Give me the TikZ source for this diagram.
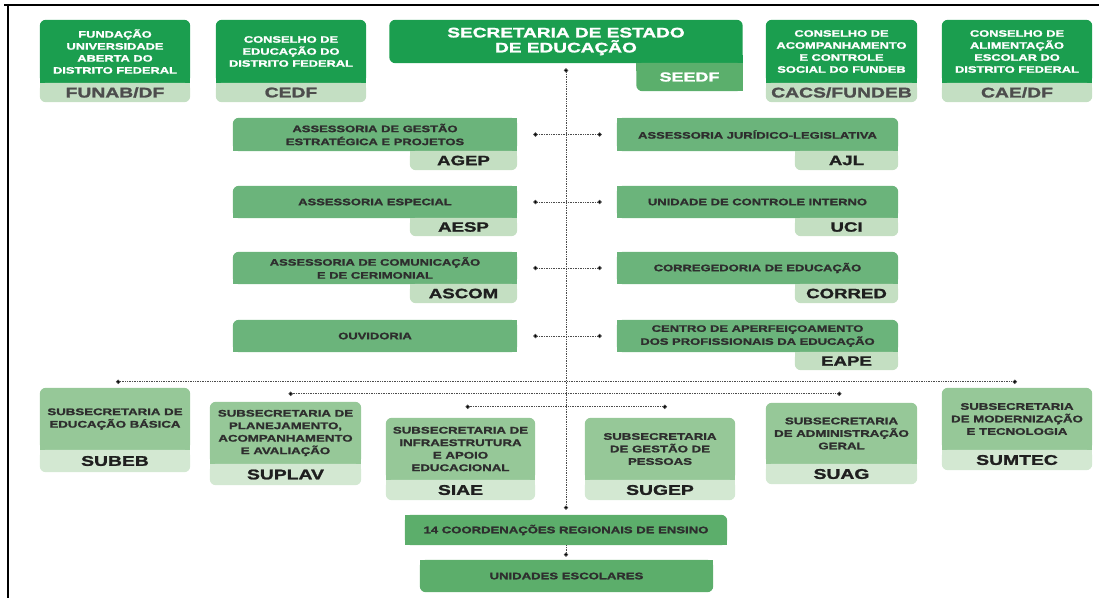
\documentclass[tikz,border=0pt]{standalone}
\usepackage{fontspec}
\setmainfont[FakeStretch=1.38, BoldFeatures={FakeBold=1.6}]{Liberation Sans}
\usetikzlibrary{backgrounds,arrows.meta}
\definecolor{cTop}{HTML}{1B9E4F}
\definecolor{cTopTab}{HTML}{C4DFC3}
\definecolor{cSeedTab}{HTML}{5BAF6C}
\definecolor{cAss}{HTML}{6BB47B}
\definecolor{cAssTab}{HTML}{C4DFC2}
\definecolor{cSub}{HTML}{96C898}
\definecolor{cSubTab}{HTML}{D3E8D2}
\definecolor{cCoord}{HTML}{5CAE6B}
\definecolor{tabGray}{HTML}{4D4D4D}
\definecolor{boxText}{HTML}{2E2E2E}
\newcommand\RTop[2]{%
 \fill[#2,rounded corners=6pt] (#1.south west) rectangle (#1.north east);
 \fill[#2] (#1.south west) rectangle ([yshift=8pt]#1.south east);}
\newcommand\RBot[2]{%
 \fill[#2,rounded corners=6pt] (#1.south west) rectangle (#1.north east);
 \fill[#2] (#1.north west) rectangle ([yshift=-8pt]#1.north east);}
\newcommand\SqNE[2]{\fill[#2] (#1.north east) rectangle ([xshift=-8pt,yshift=-8pt]#1.north east);}
\newcommand\SqNW[2]{\fill[#2] (#1.north west) rectangle ([xshift=8pt,yshift=-8pt]#1.north west);}
\tikzset{
 box/.style={inner sep=0pt, align=center},
 ttop/.style={box, text=white, font=\fontsize{9.3}{12}\selectfont\bfseries},
 ttitle/.style={box, text=white, font=\fontsize{13.8}{15}\selectfont\bfseries},
 ttab/.style={box, text=tabGray, font=\fontsize{14}{16}\selectfont\bfseries},
 tseed/.style={box, text=white, font=\fontsize{13}{15}\selectfont\bfseries},
 tass/.style={box, text=boxText, font=\fontsize{9.4}{13}\selectfont\bfseries},
 tasstab/.style={box, text=black!88, font=\fontsize{13.5}{15}\selectfont\bfseries},
 tsub/.style={box, text=boxText, font=\fontsize{9.6}{12.5}\selectfont\bfseries},
 tsubtab/.style={box, text=black!88, font=\fontsize{14}{16}\selectfont\bfseries},
 tcoord/.style={box, text=boxText, font=\fontsize{9.5}{12}\selectfont\bfseries},
 conn/.style={densely dotted, line width=0.7pt, draw=black!70},
 dots/.style={{Circle[length=4.4pt,fill=black]}-{Circle[length=4.4pt,fill=black]}},
 enddot/.style={-{Circle[length=4.4pt,fill=black]}},
}
\begin{document}
\begin{tikzpicture}[x=1pt,y=-1pt]
\useasboundingbox (0,0) rectangle (1099,598);
\draw[line width=1.5pt] (4,5) -- (1099,5);
\draw[line width=2.5pt] (8,4.3) -- (8,598);

% ---------- top row ----------
\node[ttop, minimum width=150, minimum height=63] (funab) at (115,51.5) {FUNDAÇÃO\\UNIVERSIDADE\\ABERTA DO\\DISTRITO FEDERAL};
\node[ttab, minimum width=150, minimum height=19] (funabT) at (115,92.5) {FUNAB/DF};
\node[ttop, minimum width=150, minimum height=63] (cedf) at (291,51.5) {CONSELHO DE\\EDUCAÇÃO DO\\DISTRITO FEDERAL};
\node[ttab, minimum width=150, minimum height=19] (cedfT) at (291,92.5) {CEDF};
\node[ttitle, minimum width=353, minimum height=43] (seedf) at (566,41.5) {SECRETARIA DE ESTADO\\DE EDUCAÇÃO};
\node[tseed, minimum width=106, minimum height=28] (seedfT) at (689.5,77) {SEEDF};
\node[ttop, minimum width=151, minimum height=63] (cacs) at (841.5,51.5) {CONSELHO DE\\ACOMPANHAMENTO\\E CONTROLE\\SOCIAL DO FUNDEB};
\node[ttab, minimum width=151, minimum height=19] (cacsT) at (841.5,92.5) {CACS/FUNDEB};
\node[ttop, minimum width=150, minimum height=63] (cae) at (1017,51.5) {CONSELHO DE\\ALIMENTAÇÃO\\ESCOLAR DO\\DISTRITO FEDERAL};
\node[ttab, minimum width=150, minimum height=19] (caeT) at (1017,92.5) {CAE/DF};

% ---------- assessorias ----------
\node[tass, minimum width=284, minimum height=33] (agep) at (375,134.5) {ASSESSORIA DE GESTÃO\\ESTRATÉGICA E PROJETOS};
\node[tasstab, minimum width=107, minimum height=19] (agepT) at (463.5,160.5) {AGEP};
\node[tass, minimum width=281, minimum height=33] (ajl) at (757.5,134.5) {ASSESSORIA JURÍDICO-LEGISLATIVA};
\node[tasstab, minimum width=103, minimum height=19] (ajlT) at (846.5,160.5) {AJL};

\node[tass, minimum width=284, minimum height=32] (aesp) at (375,202) {ASSESSORIA ESPECIAL};
\node[tasstab, minimum width=107, minimum height=18] (aespT) at (463.5,227) {AESP};
\node[tass, minimum width=281, minimum height=32] (uci) at (757.5,202) {UNIDADE DE CONTROLE INTERNO};
\node[tasstab, minimum width=103, minimum height=18] (uciT) at (846.5,227) {UCI};

\node[tass, minimum width=284, minimum height=32] (ascom) at (375,268) {ASSESSORIA DE COMUNICAÇÃO\\E DE CERIMONIAL};
\node[tasstab, minimum width=107, minimum height=19] (ascomT) at (463.5,293.5) {ASCOM};
\node[tass, minimum width=281, minimum height=32] (corred) at (757.5,268) {CORREGEDORIA DE EDUCAÇÃO};
\node[tasstab, minimum width=103, minimum height=19] (corredT) at (846.5,293.5) {CORRED};

\node[tass, minimum width=284, minimum height=32] (ouv) at (375,336) {OUVIDORIA};
\node[tass, minimum width=281, minimum height=32] (eape) at (757.5,336) {CENTRO DE APERFEIÇOAMENTO\\DOS PROFISSIONAIS DA EDUCAÇÃO};
\node[tasstab, minimum width=103, minimum height=18] (eapeT) at (846.5,361) {EAPE};

% ---------- subsecretarias ----------
\node[tsub, minimum width=150, minimum height=62] (subeb) at (115,419) {SUBSECRETARIA DE\\EDUCAÇÃO BÁSICA};
\node[tsubtab, minimum width=150, minimum height=22] (subebT) at (115,461) {SUBEB};
\node[tsub, minimum width=151, minimum height=62] (suplav) at (285.5,433) {SUBSECRETARIA DE\\PLANEJAMENTO,\\ACOMPANHAMENTO\\E AVALIAÇÃO};
\node[tsubtab, minimum width=151, minimum height=21] (suplavT) at (285.5,474.5) {SUPLAV};
\node[tsub, minimum width=149, minimum height=62] (siae) at (460.5,449) {SUBSECRETARIA DE\\INFRAESTRUTURA\\E APOIO\\EDUCACIONAL};
\node[tsubtab, minimum width=149, minimum height=20] (siaeT) at (460.5,490) {SIAE};
\node[tsub, minimum width=150, minimum height=62] (sugep) at (660,449) {SUBSECRETARIA\\DE GESTÃO DE\\PESSOAS};
\node[tsubtab, minimum width=150, minimum height=20] (sugepT) at (660,490) {SUGEP};
\node[tsub, minimum width=151, minimum height=61] (suag) at (841.5,433.5) {SUBSECRETARIA\\DE ADMINISTRAÇÃO\\GERAL};
\node[tsubtab, minimum width=151, minimum height=20] (suagT) at (841.5,474) {SUAG};
\node[tsub, minimum width=150, minimum height=62] (sumtec) at (1017,419) {SUBSECRETARIA\\DE MODERNIZAÇÃO\\E TECNOLOGIA};
\node[tsubtab, minimum width=150, minimum height=20] (sumtecT) at (1017,460) {SUMTEC};

% ---------- bottom ----------
\node[tcoord, minimum width=322, minimum height=30] (coord) at (566,530) {14 COORDENAÇÕES REGIONAIS DE ENSINO};
\node[tcoord, minimum width=293, minimum height=32] (unid) at (566.5,576) {UNIDADES ESCOLARES};

% ---------- connectors ----------
\draw[conn,dots] ([yshift=-5pt]seedf.south) -- ([yshift=5pt]seedf.south |- coord.north);
\draw[conn,enddot] (coord.south) -- ([yshift=3pt]coord.south |- unid.north);
\draw[conn,dots] ([xshift=16pt]agep.east) -- ([xshift=-15pt]ajl.west);
\draw[conn,dots] ([xshift=16pt]aesp.east) -- ([xshift=-15pt]uci.west);
\draw[conn,dots] ([xshift=16pt]ascom.east) -- ([xshift=-15pt]corred.west);
\draw[conn,dots] ([xshift=16pt]ouv.east) -- ([xshift=-15pt]eape.west);
\draw[conn,dots] ([xshift=1pt,yshift=6pt]subeb.north) -- ([yshift=6pt]sumtec.north);
\draw[conn,dots] ([xshift=3pt,yshift=8pt]suplav.north) -- ([yshift=8pt]suplav.north -| suag.north);
\draw[conn,dots] ([xshift=5pt,yshift=11pt]siae.north) -- ([xshift=7pt,yshift=11pt]siae.north -| sugep.north);

% ---------- fills ----------
\begin{scope}[on background layer]
 \RTop{funab}{cTop} \RBot{funabT}{cTopTab}
 \RTop{cedf}{cTop} \RBot{cedfT}{cTopTab}
 \RTop{cacs}{cTop} \RBot{cacsT}{cTopTab}
 \RTop{cae}{cTop} \RBot{caeT}{cTopTab}
 \fill[cTop,rounded corners=6pt] (seedf.south west) rectangle (seedf.north east);
 \fill[cTop] (seedf.south east) rectangle ([xshift=-8pt,yshift=8pt]seedf.south east);
 \fill[cSeedTab,rounded corners=6pt] (seedfT.south west) rectangle (seedfT.north east);
 \fill[cSeedTab] (seedfT.north west) rectangle ([yshift=-8pt]seedfT.north east);
 \fill[cSeedTab] ([xshift=-8pt]seedfT.south east) rectangle (seedfT.north east);
 \foreach \n in {agep,aesp,ascom,ouv}{\RTop{\n}{cAss} \SqNE{\n}{cAss}}
 \foreach \n in {ajl,uci,corred,eape}{\RTop{\n}{cAss} \SqNW{\n}{cAss}}
 \foreach \n in {agepT,ajlT,aespT,uciT,ascomT,corredT,eapeT}{\RBot{\n}{cAssTab} }
 \foreach \n in {subeb,suplav,siae,sugep,suag,sumtec}{\RTop{\n}{cSub}}
 \foreach \n in {subebT,suplavT,siaeT,sugepT,suagT,sumtecT}{\RBot{\n}{cSubTab}}
 \fill[cCoord,rounded corners=6pt] (coord.south west) rectangle (coord.north east);
 \fill[cCoord] (coord.south west) rectangle ([yshift=8pt]coord.south east);
 \fill[cCoord] (coord.south west) rectangle ([xshift=8pt]coord.north west);
 \RBot{unid}{cCoord}
\end{scope}
\end{tikzpicture}
\end{document}
